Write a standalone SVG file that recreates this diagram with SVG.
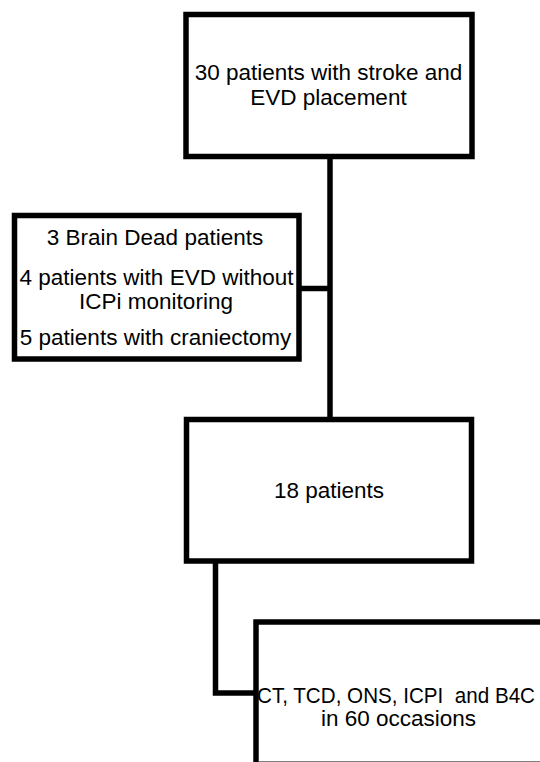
<svg xmlns="http://www.w3.org/2000/svg" width="540" height="762" viewBox="0 0 540 762">
<style>
.box{fill:#fff;stroke:#000;stroke-width:5.5;stroke-linejoin:miter}
.conn{fill:none;stroke:#000;stroke-width:5.5;stroke-linejoin:miter;stroke-linecap:butt}
.t{font-family:"Liberation Sans",Arial,sans-serif;font-size:22.5px;fill:#000;text-anchor:middle}
</style>
<rect width="540" height="762" fill="#fff"/>
<g id="connectors">
<path class="conn" d="M330,156 V420"/>
<path class="conn" d="M299,288.5 H330"/>
<path class="conn" d="M215.5,561 V693 H256"/>
</g>
<g id="node-top">
<rect class="box" x="186" y="14.5" width="286" height="142"/>
<text class="t" x="328.5" y="80">30 patients with stroke and</text>
<text class="t" x="328.5" y="105">EVD placement</text>
</g>
<g id="node-excluded">
<rect class="box" x="14.5" y="215.5" width="284.5" height="143.5"/>
<text class="t" x="155" y="245">3 Brain Dead patients</text>
<text class="t" x="156.5" y="285">4 patients with EVD without</text>
<text class="t" x="156" y="309">ICPi monitoring</text>
<text class="t" x="155.5" y="345">5 patients with craniectomy</text>
</g>
<g id="node-included">
<rect class="box" x="186.5" y="419.5" width="285" height="141.5"/>
<text class="t" x="329" y="498">18 patients</text>
</g>
<g id="node-measures">
<rect class="box" x="256" y="622" width="300" height="200"/>
<line x1="259" y1="761.5" x2="540" y2="761.5" stroke="#808080" stroke-width="1"/>
<text class="t" x="396" y="703" textLength="278" lengthAdjust="spacingAndGlyphs" xml:space="preserve">CT, TCD, ONS, ICPI  and B4C</text>
<text class="t" x="398.5" y="726">in 60 occasions</text>
</g>
</svg>
